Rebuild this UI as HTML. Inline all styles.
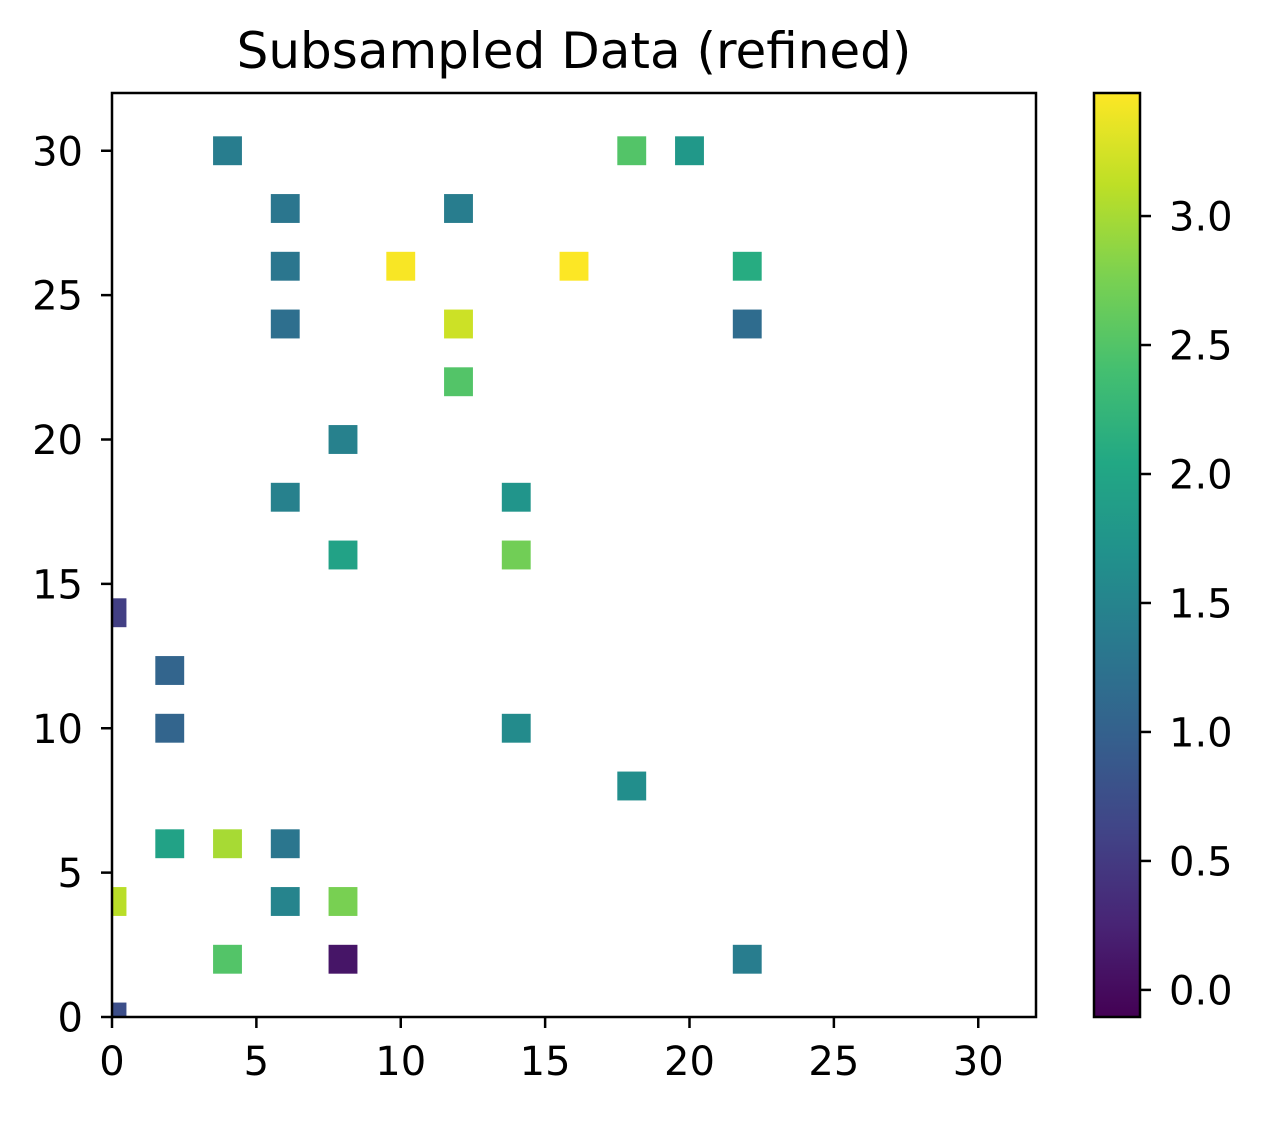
<!DOCTYPE html>
<html><head><meta charset="utf-8"><style>
body{margin:0;background:#fff;}
text{font-family:"DejaVu Sans","Liberation Sans",sans-serif;}
</style></head><body>
<svg id="chart" width="1265" height="1116" xmlns="http://www.w3.org/2000/svg">
<defs><linearGradient id="vir" x1="0" y1="1" x2="0" y2="0"></linearGradient>
<clipPath id="pc"><rect x="112" y="93" width="924" height="924"/></clipPath></defs>
<text x="574" y="68" font-size="50" text-anchor="middle">Subsampled Data (refined)</text>
<g id="cells" clip-path="url(#pc)"></g>
<rect x="112" y="93" width="924" height="924" fill="none" stroke="#000" stroke-width="2.5"/>
<g id="axes"></g>
<rect x="1094" y="93" width="46" height="924" fill="url(#vir)" stroke="#000" stroke-width="2.5"/>
<g id="cbticks"></g>
</svg>
<script>
const xs=[4,18,20,6,12,6,10,16,22,6,12,22,12,8,6,14,8,14,0,2,2,14,18,2,4,6,0,6,8,4,8,22,0];
const ys=[30,30,30,28,28,26,26,26,26,24,24,24,22,20,18,18,16,16,14,12,10,10,8,6,6,6,4,4,4,2,2,2,0];
const vals=[1.4,2.5,1.8,1.3,1.4,1.3,3.45,3.47,2.1,1.2,3.2,1.15,2.5,1.45,1.45,1.75,1.95,2.7,0.55,1.05,1.05,1.6,1.65,1.95,3.0,1.3,3.1,1.5,2.75,2.5,0.1,1.4,0.75];
const xTicks=[0,5,10,15,20,25,30];
const yTicks=[0,5,10,15,20,25,30];
const cbTicks=[0.0,0.5,1.0,1.5,2.0,2.5,3.0];
const vmin=-0.105,vmax=3.477;
const X=v=>112+v*924/32, Y=v=>1017-v*924/32, CY=v=>1017-(v-vmin)/(vmax-vmin)*924;
const vir=["#440154","#482475","#414487","#355f8d","#2a788e","#21918c","#22a884","#44bf70","#7ad151","#bddf26","#fde725"];
function col(v){let t=Math.max(0,Math.min(1,(v-vmin)/(vmax-vmin)))*10;let i=Math.min(9,Math.floor(t)),f=t-i;
const a=vir[i],b=vir[i+1];const p=(s,k)=>parseInt(s.substr(k,2),16);let r=[1,3,5].map(k=>Math.round(p(a,k)*(1-f)+p(b,k)*f));return `rgb(${r})`;}
const NS="http://www.w3.org/2000/svg";
const g=document.getElementById('vir');
vir.forEach((c,i)=>{const s=document.createElementNS(NS,'stop');s.setAttribute('offset',i/10);s.setAttribute('stop-color',c);g.appendChild(s);});
const cells=document.getElementById('cells');
xs.forEach((x,i)=>{const r=document.createElementNS(NS,'rect');


r.setAttribute('x',X(x-0.5));r.setAttribute('y',Y(ys[i]+0.5));r.setAttribute('width',X(1)-X(0));r.setAttribute('height',X(1)-X(0));r.setAttribute('fill',col(vals[i]));cells.appendChild(r);});
const ax=document.getElementById('axes');
function line(x1,y1,x2,y2,p){const l=document.createElementNS(NS,'line');


l.setAttribute('x1',x1);l.setAttribute('y1',y1);l.setAttribute('x2',x2);l.setAttribute('y2',y2);l.setAttribute('stroke','#000');l.setAttribute('stroke-width','2.5');p.appendChild(l);}
function txt(x,y,s,anc,p,name){const t=document.createElementNS(NS,'text');


t.setAttribute('x',x);t.setAttribute('y',y);t.setAttribute('font-size','40');t.setAttribute('text-anchor',anc);t.textContent=s;p.appendChild(t);}
xTicks.forEach(v=>{line(X(v),1017,X(v),1028,ax);txt(X(v),1075,v,'middle',ax,'x-tick-label');});
yTicks.forEach(v=>{line(101,Y(v),112,Y(v),ax);txt(83,Y(v)+14.5,v,'end',ax,'y-tick-label');});
const cb=document.getElementById('cbticks');
cbTicks.forEach(v=>{line(1140,CY(v),1151,CY(v),cb);txt(1169,CY(v)+14.5,v.toFixed(1),'start',cb,'colorbar-tick-label');});
</script>
</body></html>
